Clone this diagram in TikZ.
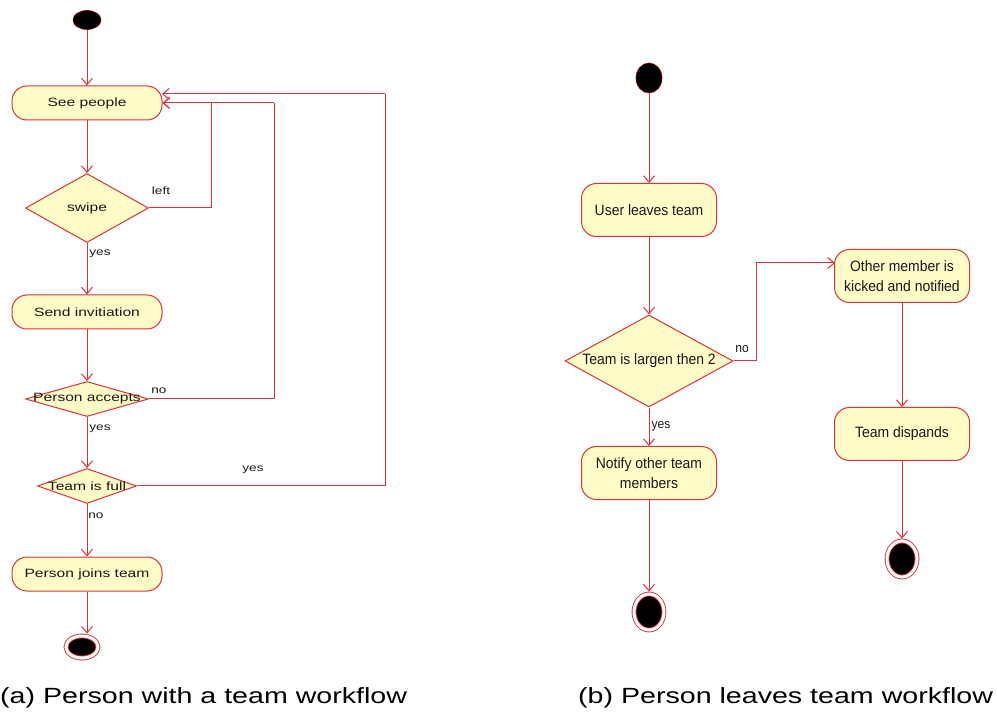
\documentclass[tikz,border=0pt]{standalone}
\usepackage{fontspec}
\usetikzlibrary{shapes.geometric,arrows.meta}
\newfontfamily\wideSans[FakeStretch=1.3]{Liberation Sans}
\newfontfamily\narrowSans[FakeStretch=0.93]{Liberation Sans}
\definecolor{umlline}{RGB}{222,50,58}
\definecolor{umlfill}{RGB}{255,252,200}
\tikzset{
  flow/.style={draw=umlline, line width=1pt, -{Straight Barb[length=6.5pt,width=11pt]}},
  line/.style={draw=umlline, line width=1pt},
  actL/.style={draw=umlline, fill=umlfill, line width=1pt, rounded corners=15pt,
    inner sep=0pt, minimum width=150pt, minimum height=34pt,
    font=\wideSans\fontsize{12}{14}\selectfont, text=black!90},
  actR/.style={draw=umlline, fill=umlfill, line width=1pt, rounded corners=15pt,
    inner sep=0pt, minimum width=135pt, minimum height=53pt, align=center,
    font=\narrowSans\fontsize{15}{19.5}\selectfont, text=black!90},
  choice/.style={diamond, draw=umlline, fill=umlfill, line width=1pt, inner sep=0pt,
    text=black!90},
  startnode/.style={ellipse, fill=black, draw=red!55!black, line width=0.6pt, inner sep=0pt},
  endnode/.style={ellipse, fill=black, draw=umlline, line width=0.9pt, double=white,
    double distance=3pt, inner sep=0pt, outer sep=2.4pt},
  lblL/.style={inner sep=0pt, font=\wideSans\fontsize{10.5}{12}\selectfont, text=black!90},
  lblR/.style={inner sep=0pt, font=\narrowSans\fontsize{13}{15}\selectfont, text=black!90},
  capt/.style={inner sep=0pt, font=\wideSans\fontsize{22}{26}\selectfont, text=black},
}
\begin{document}
\begin{tikzpicture}[x=1pt,y=-1pt]
\useasboundingbox (0,0) rectangle (997,727);

% ---- (a) joining a team ----
\node[startnode, minimum width=28pt, minimum height=19pt] (ls) at (87,20) {};
\node[actL] (see) at (87,103) {See people};
\node[choice, minimum width=123pt, minimum height=69pt,
      font=\wideSans\fontsize{12}{14}\selectfont] (swipe) at (87,208) {\makebox[0pt]{swipe}};
\node[actL] (send) at (87,312) {Send invitiation};
\node[choice, minimum width=123pt, minimum height=35pt,
      font=\wideSans\fontsize{12}{14}\selectfont] (acc) at (87,399) {\makebox[0pt]{Person accepts}};
\node[choice, minimum width=99pt, minimum height=35pt,
      font=\wideSans\fontsize{12}{14}\selectfont] (full) at (87,486) {\makebox[0pt]{Team is full}};
\node[actL] (join) at (87,574) {Person joins team};
\node[endnode, minimum width=32pt, minimum height=22pt] (lend) at (82,647) {};

\coordinate (jl) at (211,103);
\coordinate (jn) at (274,103);
\coordinate (jy) at (385,94);
\coordinate (seein) at (162,94);

\draw[flow] (ls) -- (see);
\draw[flow] (see) -- (swipe);
\draw[flow] (swipe) -- (send);
\draw[flow] (send) -- (acc);
\draw[flow] (acc) -- (full);
\draw[flow] (full) -- (join);
\draw[flow] (join.south) -- (join.south |- lend.north);
\draw[line] (swipe.east) -| (jl);
\draw[flow] (jl) -- (see.east);
\draw[line] (acc.east) -| (jn);
\draw[flow] (jn) -- (see.east);
\draw[line] (full.east) -| (jy);
\draw[flow] (jy) -- (seein);

\node[lblL] (tleft) at (161,191) {left};
\node[lblL] (tyes1) at (100,254) {yes};
\node[lblL] (tno1) at (159,391) {no};
\node[lblL] (tyes2) at (100,429) {yes};
\node[lblL] (tyes3) at (253,470) {yes};
\node[lblL] (tno2) at (96,516) {no};

% ---- (b) leaving a team ----
\node[startnode, minimum width=26pt, minimum height=30pt] (rs) at (649,78) {};
\node[actR] (leave) at (649,210) {User leaves team};
\node[choice, minimum width=168pt, minimum height=92pt,
      font=\narrowSans\fontsize{15}{18}\selectfont] (big) at (649,361) {\makebox[0pt]{Team is largen then 2}};
\node[actR] (notify) at (649,473) {Notify other team\\members};
\node[endnode, minimum width=30pt, minimum height=36pt] (rend1) at (649,612) {};
\node[actR] (kick) at (902,276) {Other member is\\kicked and notified};
\node[actR] (disp) at (902,434) {Team dispands};
\node[endnode, minimum width=30pt, minimum height=36pt] (rend2) at (902,559) {};

\coordinate (jk) at (756,263);
\coordinate (kickin) at (835,263);

\draw[flow] (rs) -- (leave);
\draw[flow] (leave) -- (big);
\draw[flow] (big) -- (notify);
\draw[flow] (notify) -- (rend1);
\draw[line] (big.east) -| (jk);
\draw[flow] (jk) -- (kickin);
\draw[flow] (kick) -- (disp);
\draw[flow] (disp) -- (rend2);

\node[lblR] (tno3) at (742,349) {no};
\node[lblR] (tyes4) at (661,426) {yes};

% ---- captions ----
\node[capt, anchor=base west] (capa) at (0,703) {(a) Person with a team workflow};
\node[capt, anchor=base west] (capb) at (578,703) {(b) Person leaves team workflow};
\end{tikzpicture}
\end{document}
